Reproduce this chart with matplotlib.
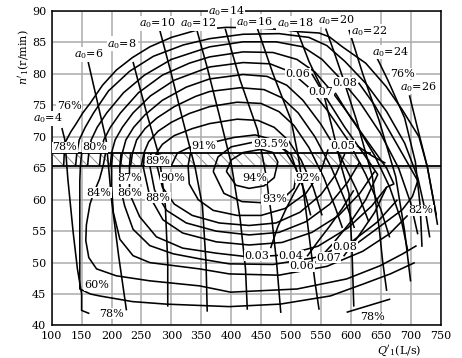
import matplotlib
matplotlib.use("Agg")
import matplotlib.pyplot as plt

plt.rcParams['font.family'] = ['DejaVu Serif']
plt.rcParams['mathtext.fontset'] = 'dejavuserif'

# ---------------- axes ----------------
x_ticks = [100, 150, 200, 250, 300, 350, 400, 450, 500, 550, 600, 650, 700, 750]
y_ticks = [40, 45, 50, 55, 60, 65, 70, 75, 80, 85, 90]

# ---------------- limit band (hatched) ----------------
band_low = 65.4
band_high = 67.4
band_end_q = 632

# ---------------- efficiency contours: upper arcs ----------------
U1_Q = [120, 121, 123, 132, 141, 152, 164, 185, 208, 235, 264, 300, 344, 392, 444, 490, 514, 547, 564, 586, 625, 659, 686, 714, 728, 738, 745]
U1_N = [65.4, 67.4, 69.2, 70.8, 72.1, 73.8, 75.3, 78.2, 80.6, 82.6, 84.3, 85.8, 87.0, 87.4, 87.3, 87.0, 86.7, 86.5, 85.9, 84.3, 81.7, 78.0, 74.3, 70.0, 65.2, 60.0, 56.0]
U2_Q = [140, 142, 146, 156, 170, 195, 230, 270, 320, 364, 420, 480, 530, 560, 590, 625, 660, 690, 712, 725, 732]
U2_N = [65.4, 67.4, 69.5, 71.5, 73.8, 77.3, 80.4, 82.8, 84.6, 85.6, 86.3, 86.4, 85.8, 84.5, 82.0, 78.5, 74.0, 69.0, 63.5, 58.0, 54.0]
U3_Q = [160, 162, 166, 176, 192, 220, 255, 300, 364, 420, 475, 520, 552, 580, 615, 650, 680, 700, 712]
U3_N = [65.4, 67.4, 69.5, 71.5, 73.8, 77.0, 79.8, 82.3, 84.3, 85.1, 85.1, 84.3, 82.3, 79.5, 75.5, 70.5, 65.0, 59.5, 54.5]
U4_Q = [180, 182, 187, 198, 215, 245, 285, 330, 364, 420, 470, 510, 540, 570, 605, 640, 665, 685, 695]
U4_N = [65.4, 67.4, 69.5, 71.5, 73.8, 77.0, 79.8, 81.7, 82.7, 83.5, 83.4, 82.3, 80.3, 77.0, 72.5, 67.0, 62.0, 56.5, 52.0]
U5_Q = [198, 200, 206, 218, 236, 265, 305, 364, 420, 465, 500, 528, 560, 595, 625, 650, 665]
U5_N = [65.4, 67.4, 69.5, 71.5, 73.8, 76.5, 79.0, 81.1, 81.8, 81.6, 80.3, 78.0, 74.3, 69.5, 64.0, 58.5, 54.0]
U6_Q = [215, 218, 224, 237, 256, 285, 325, 364, 420, 460, 493, 520, 550, 582, 610, 630]
U6_N = [65.4, 67.4, 69.5, 71.5, 73.5, 75.8, 77.9, 79.2, 79.9, 79.6, 78.2, 75.8, 72.0, 67.0, 61.5, 56.5]
U7_Q = [232, 235, 242, 256, 276, 305, 340, 364, 415, 455, 485, 512, 540, 568, 592, 606]
U7_N = [65.4, 67.4, 69.5, 71.3, 73.0, 74.8, 76.4, 77.2, 77.8, 77.5, 76.2, 73.8, 70.0, 65.0, 59.5, 55.5]
U8_Q = [250, 254, 262, 278, 300, 330, 364, 410, 450, 480, 505, 530, 555, 575, 586]
U8_N = [65.4, 67.4, 69.2, 70.9, 72.3, 73.7, 74.8, 75.5, 75.3, 74.0, 71.8, 68.3, 63.5, 58.5, 55.5]
U9_Q = [270, 275, 285, 305, 335, 364, 410, 445, 472, 495, 517, 537, 552]
U9_N = [65.4, 67.4, 68.8, 70.2, 71.3, 72.1, 72.8, 72.6, 71.5, 69.5, 66.3, 62.0, 57.5]
U10_Q = [300, 310, 330, 364, 405, 440, 468, 490, 508, 522, 533]
U10_N = [65.4, 67.4, 68.3, 69.0, 69.9, 70.3, 69.6, 67.8, 65.0, 61.5, 57.5]

# ---------------- efficiency contours: lower arcs ----------------
L1_Q = [150, 148, 147, 147, 147, 165, 180, 235, 291, 397, 482, 566, 621, 666, 707]
L1_N = [67.4, 65.4, 63.0, 55.0, 45.8, 45.0, 44.7, 43.8, 43.4, 43.0, 43.4, 44.7, 46.6, 48.2, 50.0]
L2_Q = [190, 186, 180, 170, 164, 158, 157, 162, 175, 208, 264, 347, 399, 510, 593, 649, 687, 710]
L2_N = [67.4, 65.4, 63.3, 61.0, 59.3, 56.0, 53.5, 50.8, 49.0, 47.9, 47.1, 46.3, 45.3, 45.8, 47.4, 49.5, 51.4, 52.7]
L3_Q = [202, 200, 200, 203, 214, 236, 264, 347, 397, 480, 560, 620, 665, 695]
L3_N = [67.4, 65.4, 62.2, 58.0, 53.7, 51.1, 50.0, 49.0, 48.2, 48.0, 49.4, 51.8, 54.6, 57.5]
L4_Q = [216, 214, 214, 222, 236, 264, 303, 347, 397, 470, 540, 600, 645, 678]
L4_N = [67.4, 65.4, 62.2, 59.0, 55.3, 52.7, 51.4, 50.6, 49.8, 49.7, 50.8, 53.2, 56.5, 60.0]
L5_Q = [232, 230, 230, 247, 275, 319, 375, 430, 490, 545, 595, 635, 660]
L5_N = [67.4, 65.4, 61.0, 57.3, 54.1, 52.3, 51.5, 50.9, 51.2, 52.6, 55.5, 59.0, 62.0]
L6_Q = [255, 253, 264, 286, 319, 375, 430, 485, 535, 580, 615, 640]
L6_N = [67.4, 65.2, 60.5, 56.8, 54.7, 53.3, 52.8, 53.2, 54.8, 57.5, 61.0, 64.5]
L7_Q = [266, 264, 272, 292, 325, 375, 430, 480, 525, 565, 595, 615]
L7_N = [67.4, 65.4, 61.5, 58.3, 56.3, 55.0, 54.4, 54.8, 56.5, 59.3, 62.8, 66.0]
L8_Q = [277, 276, 285, 305, 335, 380, 430, 475, 515, 550, 575, 590]
L8_N = [67.4, 65.4, 62.0, 59.3, 57.5, 56.3, 55.9, 56.3, 58.0, 60.8, 64.0, 67.3]
L9_Q = [332, 328, 330, 345, 370, 410, 450, 490, 525, 550, 562]
L9_N = [67.4, 65.4, 62.5, 60.0, 58.3, 57.5, 57.5, 58.6, 61.0, 64.5, 68.0]

# ---------------- inner closed contours ----------------
E94_Q = [392, 400, 420, 450, 470, 478, 472, 455, 430, 408, 392]
E94_N = [64.5, 66.3, 67.5, 68.0, 67.5, 66.0, 63.5, 62.2, 61.8, 62.3, 64.5]
E935_Q = [370, 378, 400, 440, 478, 500, 510, 505, 487, 455, 418, 388, 370]
E935_N = [64.5, 66.8, 68.4, 69.2, 68.8, 67.2, 64.5, 61.8, 60.2, 59.5, 59.7, 61.0, 64.5]

# ---------------- guide vane opening lines a0 ----------------
A4_Q = [117, 122, 127, 136, 143, 150, 150, 163]
A4_N = [71.4, 69.5, 63.3, 54.7, 49.0, 45.0, 42.4, 41.9]
A6_Q = [161, 191, 200, 212, 225]
A6_N = [81.9, 69.5, 60.0, 51.0, 42.4]
A8_Q = [236, 258, 280, 290, 294, 294]
A8_N = [81.9, 74.0, 66.8, 59.0, 50.0, 43.0]
A10_Q = [280, 300, 319, 340, 352, 358, 360]
A10_N = [87.2, 80.0, 72.7, 65.0, 59.0, 50.0, 42.2]
A12_Q = [342, 360, 380, 400, 415, 424, 427]
A12_N = [87.2, 81.0, 73.5, 65.8, 57.0, 49.0, 42.5]
A14_Q = [390, 415, 444, 458, 468, 476, 483]
A14_N = [87.2, 79.0, 71.1, 64.0, 57.0, 50.0, 42.0]
A16_Q = [444, 470, 500, 512, 520, 532, 540, 547]
A16_N = [87.2, 80.0, 72.7, 67.0, 62.0, 53.0, 47.0, 42.5]
A18_Q = [511, 530, 553, 570, 585, 597, 602, 605]
A18_N = [86.7, 82.0, 77.4, 71.0, 65.0, 61.0, 52.0, 43.0]
A20_Q = [558, 572, 586, 610, 636, 648, 653, 660]
A20_N = [87.2, 83.5, 79.6, 72.5, 63.7, 55.0, 50.4, 45.5]
A22_Q = [597, 620, 647, 675, 690, 700]
A22_N = [87.0, 80.0, 72.7, 63.7, 55.0, 47.0]
A24_Q = [644, 662, 690, 708, 716, 719]
A24_N = [82.5, 79.0, 73.0, 66.0, 59.0, 52.5]
A26_Q = [698, 711, 728, 743]
A26_N = [76.6, 71.6, 65.2, 57.5]
bottom78_Q = [593, 666]
bottom78_N = [42.1, 44.2]

# ---------------- cavitation coefficient lines ----------------
S03_Q = [466, 478, 491, 505, 520]
S03_N = [52.3, 55.7, 58.4, 61.0, 63.5]
S04_Q = [527, 547, 564, 585, 605]
S04_N = [51.0, 53.6, 55.7, 58.5, 61.5]
S05_Q = [610, 635, 658]
S05_N = [68.6, 67.0, 65.8]
S06_Q = [535, 560, 590, 620, 645, 625, 600, 570, 541]
S06_N = [80.0, 76.0, 71.5, 67.5, 64.0, 60.0, 56.5, 53.0, 50.0]
S07_Q = [574, 600, 630, 660, 672, 660, 640, 615, 588]
S07_N = [77.0, 73.0, 69.0, 65.0, 62.5, 62.0, 58.0, 54.5, 51.0]
S08_Q = [613, 640, 670, 700, 712, 703, 686, 648, 611]
S08_N = [78.6, 75.0, 70.0, 65.0, 63.0, 60.5, 58.4, 55.7, 53.1]

# ---------------- labels ----------------
eff_text = ["76%", "78%", "80%", "89%", "91%", "93.5%", "87%", "90%", "94%", "92%",
            "84%", "86%", "88%", "93%", "82%", "60%", "78%", "78%", "76%"]
eff_q = [129, 122, 172, 278, 354, 466, 230, 302, 439, 528, 179, 230, 278, 472, 717, 175, 200, 637, 687]
eff_n = [74.9, 68.3, 68.3, 66.2, 68.5, 68.9, 63.4, 63.5, 63.4, 63.5, 61.1, 61.1, 60.3, 60.1, 58.3, 46.4, 41.9, 41.3, 80.0]

sig_text = ["0.06", "0.08", "0.07", "0.05", "0.03", "0.04", "0.06", "0.07", "0.08"]
sig_q = [512, 590, 550, 586, 443, 500, 518, 563, 590]
sig_n = [80.0, 78.6, 77.1, 68.6, 51.1, 51.1, 49.4, 50.8, 52.5]

a0_vals = [4, 6, 8, 10, 12, 14, 16, 18, 20, 22, 24, 26]
a0_q = [93, 162, 218, 276, 345, 392, 439, 507, 575, 630, 666, 713]
a0_n = [72.9, 83.1, 84.8, 88.0, 88.0, 90.0, 88.3, 88.0, 88.6, 86.8, 83.5, 77.9]

# =====================================================================
fig = plt.figure(figsize=(4.62, 3.58), dpi=100)
ax = fig.add_axes([0.1119, 0.0908, 0.8416, 0.8785])
ax.set_xlim(100, 750)
ax.set_ylim(40, 90)
ax.set_xticks(x_ticks)
ax.set_yticks(y_ticks)
ax.tick_params(length=0, labelsize=8, pad=4)
ax.grid(True, color='#ababab', linewidth=1.1, zorder=0)
for s in ax.spines.values():
    s.set_linewidth(1.1)
    s.set_zorder(5)

# band: diagonal hatch strokes drawn as thin grey lines (decoration)
hatch_step = 20
hatch_dx = 20
q0 = 100
while q0 < band_end_q:
    q1 = min(q0 + hatch_dx, band_end_q)
    frac = (q1 - q0) / hatch_dx
    ax.plot([q0, q1], [band_high, band_high - frac * (band_high - band_low)],
            color='#8c8c8c', lw=0.7, zorder=1)
    q0 += hatch_step
ax.plot([100, band_end_q], [band_high, band_high], color='black', lw=1.3, zorder=3)
ax.plot([100, 750], [band_low, band_low], color='black', lw=1.3, zorder=3)

line_kw = dict(color='black', lw=1.15, zorder=3, solid_capstyle='butt')
curves = [(U1_Q, U1_N), (U2_Q, U2_N), (U3_Q, U3_N), (U4_Q, U4_N), (U5_Q, U5_N),
          (U6_Q, U6_N), (U7_Q, U7_N), (U8_Q, U8_N), (U9_Q, U9_N), (U10_Q, U10_N),
          (L1_Q, L1_N), (L2_Q, L2_N), (L3_Q, L3_N), (L4_Q, L4_N), (L5_Q, L5_N),
          (L6_Q, L6_N), (L7_Q, L7_N), (L8_Q, L8_N), (L9_Q, L9_N),
          (E94_Q, E94_N), (E935_Q, E935_N),
          (A4_Q, A4_N), (A6_Q, A6_N), (A8_Q, A8_N), (A10_Q, A10_N), (A12_Q, A12_N),
          (A14_Q, A14_N), (A16_Q, A16_N), (A18_Q, A18_N), (A20_Q, A20_N),
          (A22_Q, A22_N), (A24_Q, A24_N), (A26_Q, A26_N), (bottom78_Q, bottom78_N),
          (S03_Q, S03_N), (S04_Q, S04_N), (S05_Q, S05_N), (S06_Q, S06_N),
          (S07_Q, S07_N), (S08_Q, S08_N)]
for q, n in curves:
    ax.plot(q, n, **line_kw)

bbox = dict(facecolor='white', edgecolor='none', pad=0.3)
for t, q, n in zip(eff_text, eff_q, eff_n):
    ax.text(q, n, t, fontsize=8, ha='center', va='center', bbox=bbox, zorder=6)
for t, q, n in zip(sig_text, sig_q, sig_n):
    ax.text(q, n, t, fontsize=8, ha='center', va='center', bbox=bbox, zorder=6)
for v, q, n in zip(a0_vals, a0_q, a0_n):
    ax.text(q, n, f"$a_0$={v}", fontsize=8, ha='center', va='center', bbox=bbox,
            zorder=6, clip_on=False)

fig.text(24 / 462, 1 - 57 / 358, "$n'_1$(r/min)", rotation=90, fontsize=8,
         ha='center', va='center')
fig.text(399 / 462, 1 - 351 / 358, "$Q'_1$(L/s)", fontsize=8, ha='center', va='center')

fig.savefig("out.png", dpi=100)
